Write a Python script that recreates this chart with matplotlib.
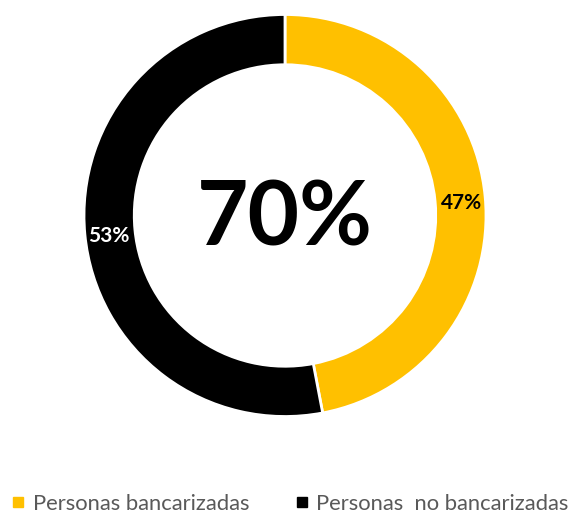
import matplotlib
matplotlib.use("Agg")
import matplotlib.pyplot as plt
from matplotlib.lines import Line2D

plt.rcParams['font.family'] = ['Lato', 'DejaVu Sans']

categories = ["Personas bancarizadas", "Personas  no bancarizadas"]
values = [47, 53]
colors = ["#FFC000", "#000000"]
label_colors = ["#000000", "#FFFFFF"]
center_text = "70%"

W, H = 570, 513
fig = plt.figure(figsize=(W/100, H/100), dpi=100)
cx, cy, R = 285, 215.5, 201
ax = fig.add_axes([(cx-R)/W, (H-cy-R)/H, 2*R/W, 2*R/H])
wedges, texts, autotexts = ax.pie(
    values, colors=colors, startangle=90, counterclock=False, radius=1.0,
    wedgeprops=dict(width=0.25, edgecolor="white", linewidth=2),
    autopct=lambda p: f"{p:.0f}%", pctdistance=0.88,
    textprops=dict(fontsize=15, fontweight="bold"))
for t, c in zip(autotexts, label_colors):
    t.set_color(c)
    x, y = t.get_position()
    t.set_position((x, y - 0.02))
ax.set_xlim(-1, 1)
ax.set_ylim(-1, 1)
ax.text(0, (cy - 246) / R, center_text, ha="center", va="baseline", fontsize=64, fontweight="bold", color="#000000")

handles = [Line2D([], [], marker="s", linestyle="none", markersize=6.5, markerfacecolor=c, markeredgecolor=c) for c in colors]
fig.legend(handles, categories, loc="center", bbox_to_anchor=(289/W, (H-504)/H), ncol=2, frameon=False,
           fontsize=15.8, labelcolor="#595959", handletextpad=0.25, columnspacing=2.0, handlelength=0.8,
           borderaxespad=0, borderpad=0)
fig.savefig("out.png", dpi=100)
